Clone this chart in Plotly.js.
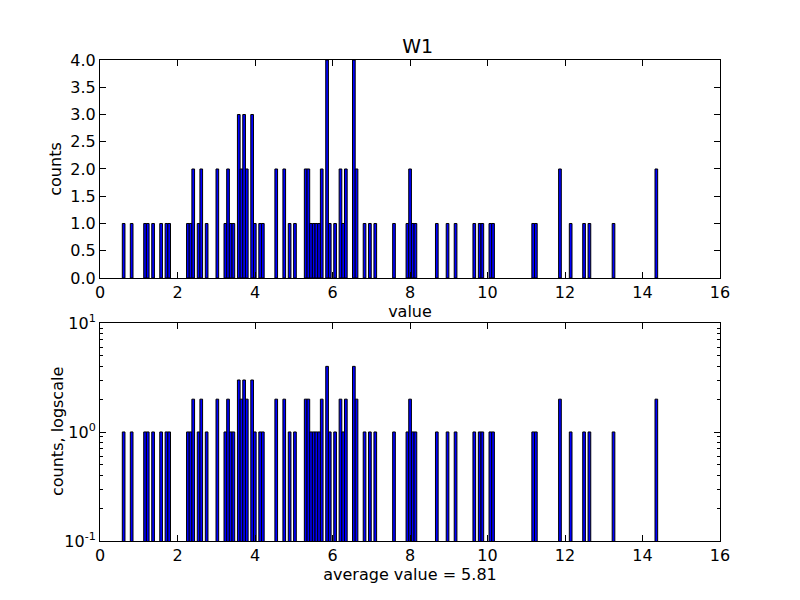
<!DOCTYPE html>
<html>
<head>
<meta charset="utf-8">
<script src="https://cdn.plot.ly/plotly-3.0.1.min.js"></script>
<style>html,body{margin:0;padding:0;background:#fff;}#chart{width:800px;height:600px;}</style>
</head>
<body>
<div id="chart"></div>
<script>
// Histogram bin centres (value) and counts
const binCenters = [0.610, 0.817, 1.163, 1.232, 1.370, 1.577, 1.715, 1.785,
  2.268, 2.337, 2.406, 2.544, 2.613, 2.752, 3.028, 3.235, 3.304, 3.373, 3.442,
  3.581, 3.650, 3.719, 3.788, 3.926, 3.995, 4.133, 4.202, 4.548, 4.755, 4.893,
  5.031, 5.308, 5.377, 5.446, 5.515, 5.584, 5.653, 5.722, 5.860, 5.929, 6.067,
  6.206, 6.275, 6.344, 6.551, 6.620, 6.827, 6.965, 7.104, 7.587, 7.933, 8.002,
  8.071, 8.140, 8.692, 8.969, 9.176, 9.659, 9.798, 9.867, 10.074, 10.143,
  11.179, 11.248, 11.870, 12.146, 12.492, 12.630, 13.252, 14.357];
const binCounts = [1, 1, 1, 1, 1, 1, 1, 1,
  1, 1, 2, 1, 2, 1, 2, 1, 2, 1, 1,
  3, 2, 3, 2, 3, 1, 1, 1, 2, 2, 1,
  1, 2, 2, 1, 1, 1, 1, 2, 4, 1, 1,
  2, 1, 2, 4, 2, 1, 1, 1, 1, 1, 2,
  1, 1, 1, 1, 1, 1, 1, 1, 1, 1,
  1, 1, 2, 1, 1, 1, 1, 2];
const binWidth = 0.06908;
const titleText = 'W1';
const averageLabel = 'average value = 5.81';
const linTickVals = [0, 0.5, 1, 1.5, 2, 2.5, 3, 3.5, 4];
const logTickVals = [0.1, 1, 10];
const logTickText = ['10<sup>-1</sup>', '10<sup>0</sup>', '10<sup>1</sup>'];
const logMinorVals = [0.2,0.3,0.4,0.5,0.6,0.7,0.8,0.9,2,3,4,5,6,7,8,9];

const font = {family: 'DejaVu Sans, sans-serif', size: 16, color: '#000'};
const widths = binCenters.map(() => binWidth);

const barStyle = {color: '#0000ff', line: {color: '#000000', width: 1}};
const traces = [
  {type: 'bar', x: binCenters, y: binCounts, width: widths, marker: barStyle,
   xaxis: 'x', yaxis: 'y', showlegend: false, hoverinfo: 'x+y'},
  {type: 'bar', x: binCenters, y: binCounts, width: widths, marker: barStyle,
   base: binCounts.map(() => 0.001),
   xaxis: 'x2', yaxis: 'y2', showlegend: false, hoverinfo: 'x+y'}
];

const axCommon = {
  showline: true, linecolor: '#000', linewidth: 1, mirror: 'allticks',
  ticks: 'inside', ticklen: 6, tickwidth: 1, tickcolor: '#000',
  showgrid: false, zeroline: false, tickfont: font
};

const layout = {
  width: 800, height: 600,
  paper_bgcolor: '#ffffff', plot_bgcolor: '#ffffff',
  font: font,
  margin: {l: 100, r: 80, t: 60, b: 59},
  bargap: 0,
  title: {text: titleText, font: {family: font.family, size: 19, color: '#000'},
          x: 0.5125, xanchor: 'center', y: 1 - 46/600, yanchor: 'middle', xref: 'paper', yref: 'container'},
  xaxis: Object.assign({}, axCommon, {
    domain: [0, 1], anchor: 'y', range: [0, 16], tickmode: 'linear', tick0: 0, dtick: 2,
    title: {text: 'value', font: font, standoff: 2}
  }),
  yaxis: Object.assign({}, axCommon, {
    domain: [0.5468, 1], anchor: 'x', range: [0, 4], tickmode: 'array', tickvals: linTickVals,
    tickformat: '.1f', title: {text: 'counts', font: font, standoff: 4}
  }),
  xaxis2: Object.assign({}, axCommon, {
    domain: [0, 1], anchor: 'y2', range: [0, 16], tickmode: 'linear', tick0: 0, dtick: 2,
    title: {text: averageLabel, font: font, standoff: 0}
  }),
  yaxis2: Object.assign({}, axCommon, {
    domain: [0, 0.4532], anchor: 'x2', type: 'log', range: [-1, 1],
    tickmode: 'array', tickvals: logTickVals, ticktext: logTickText,
    minor: {tickmode: 'array', tickvals: logMinorVals, ticks: 'inside', ticklen: 3, tickcolor: '#000', tickwidth: 1}
  }),
  annotations: [
    {text: 'counts, logscale', xref: 'paper', yref: 'paper', x: (57 - 100) / 620, y: (541 - 432) / 481,
     xanchor: 'center', yanchor: 'middle', textangle: -90, showarrow: false, font: font}
  ]
};

Plotly.newPlot('chart', traces, layout, {displayModeBar: false, staticPlot: true});
</script>
</body>
</html>
